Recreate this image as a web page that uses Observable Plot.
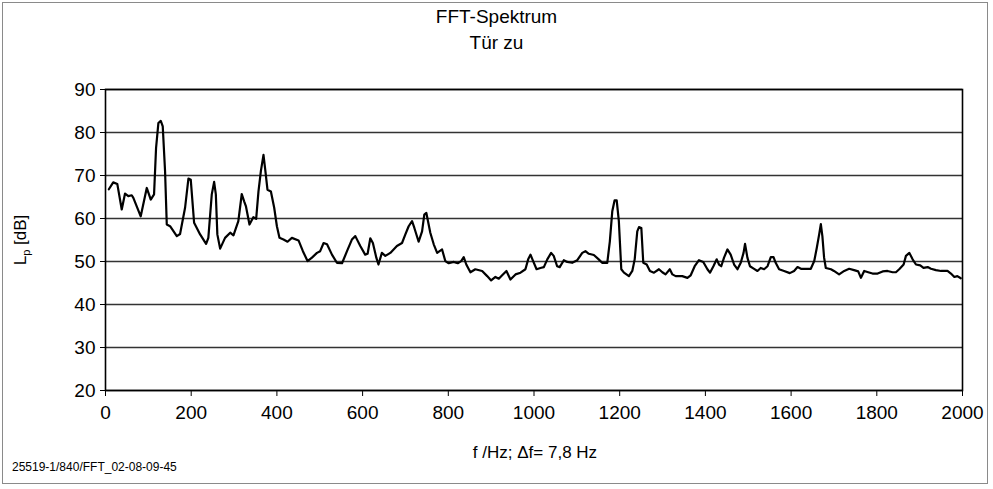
<!DOCTYPE html>
<html>
<head>
<meta charset="utf-8">
<script src="https://cdn.jsdelivr.net/npm/d3@7"></script>
<script src="https://cdn.jsdelivr.net/npm/@observablehq/plot@0.6"></script>
<style>
  html, body { margin: 0; padding: 0; background: #fff; }
  #wrap { position: relative; width: 993px; height: 489px; font-family: "Liberation Sans", Arial, sans-serif; color: #000; }
  .ov { position: absolute; white-space: nowrap; line-height: 1; }
  #border { position: absolute; left: 2px; top: 2px; width: 986px; height: 482px; border: 1px solid #8a8a8a; box-sizing: border-box; }
</style>
</head>
<body>
<div id="wrap">
  <div id="border"></div>
  <div id="chart"></div>
  <div class="ov" id="t1" style="left:0;width:993px;text-align:center;top:7px;font-size:19px;">FFT-Spektrum</div>
  <div class="ov" id="t2" style="left:0;width:993px;text-align:center;top:33px;font-size:19px;">Tür zu</div>
  <div class="ov" id="ylab" style="left:22px;top:240px;font-size:17px;transform:translate(-50%,-50%) rotate(-90deg);">L<sub style="font-size:11px;">p</sub> [dB]</div>
  <div class="ov" id="xlab" style="left:535px;top:444px;font-size:17px;transform:translateX(-50%);">f /Hz; Δf= 7,8 Hz</div>
  <div class="ov" id="foot" style="left:12px;top:461px;font-size:12px;">25519-1/840/FFT_02-08-09-45</div>
</div>
<script>
const freq = [7.8,18,27.6,37.9,45.6,53.3,61.2,65,82.2,96.3,105.6,113.3,118,123.4,129,133.6,139,143,150.7,166.4,174,185.7,193.5,199,206.8,220.8,234.8,240,248,253.5,257.5,261,267.5,279,291,298.6,310,318,323.6,327.6,336,345,351.6,357,362.6,368.7,372.7,378,386,393.7,400,406,415.4,424.8,435,450.5,460.7,471.5,481.8,493.5,501,509,517,528.5,540,552,563.6,575,583,594.6,606,611.7,618,624,632,637,645,653,664.7,680,692,699.8,707.5,715.4,720.8,730.8,738.8,744,748.8,758,766,774,785.5,793,801,812.6,822,830,836,842,851.6,863,879,890.7,900,910,917.8,925.7,935.7,945,956.8,968.5,980,986.4,991.8,998,1006,1015,1023,1031,1040,1046,1054,1060,1069.6,1077.6,1089,1101,1112.6,1120,1128,1139.7,1151,1159,1171,1177,1182.7,1188,1193,1198,1203.7,1210,1221.5,1229.4,1235,1241,1245,1250.5,1255,1263,1270.6,1280,1291.6,1299.5,1307,1317,1323,1330.6,1346,1358,1365.7,1375,1385,1395,1404.7,1410.7,1418.7,1426.4,1431.8,1437,1443.5,1451.4,1459,1467,1474.8,1482.5,1489,1492.5,1498,1504,1513.6,1521.5,1529,1537,1545,1552.6,1559,1564,1572,1583.6,1597,1607,1615,1623,1634,1646,1654,1660,1665.5,1669.4,1673,1677,1681,1693,1700,1712,1724,1735.5,1747,1756.6,1763,1770.6,1780,1790,1802,1813.6,1825,1837,1844.6,1852.3,1862.6,1868,1876,1883.6,1891.4,1901.4,1909,1918.7,1926.4,1938,1950,1957,1965,1973,1981,1988,1996];
const level = [66.8,68.4,68.0,62.1,65.8,65.2,65.4,64.8,60.5,67.1,64.4,65.6,76.4,82.2,82.7,81.4,71,58.6,58.2,55.9,56.4,62.5,69.3,69.0,59,56.3,54.1,55.5,65.6,68.5,65.6,56.3,53,55.5,56.7,56.1,59.4,65.7,64,62.9,58.6,60.3,59.9,66.3,71,74.8,71.4,66.7,66.3,62.5,58.2,55.5,55.1,54.6,55.5,54.9,52.4,50.1,50.9,52,52.4,54.3,54,51.6,49.7,49.6,52.4,55.1,55.9,53.6,51.6,51.8,55.4,54.3,50.9,49.3,52,51.3,52,53.6,54.3,56.3,58.2,59.4,57.8,54.6,57,60.9,61.3,56.7,54,52,52.8,50.1,49.6,49.9,49.6,50.1,51,49.3,47.5,48.2,47.8,46.6,45.6,46.4,46,46.8,47.8,45.8,47,47.4,48.2,50.5,51.6,50.1,48.2,48.5,48.7,50.5,52,51.3,48.9,48.7,50.3,49.9,49.7,50.3,52,52.4,51.8,51.5,50.5,49.7,49.7,54.7,61.7,64.2,64.2,59.4,48.2,47.4,46.6,47.8,50.5,57,58,57.8,49.7,49.3,47.8,47.4,48.2,47.5,47,48.2,47,46.6,46.6,46.2,46.8,48.9,50.3,49.9,48.2,47.4,48.9,50.5,49.3,48.9,50.9,52.8,51.6,49.3,48.2,49.7,52,54.1,50.9,48.9,48.3,47.8,48.5,48.2,48.9,51,51,49.7,48.2,47.8,47.3,47.8,48.7,48.3,48.3,48.3,50.1,53.2,56.3,58.7,55.9,50.9,48.5,48.2,47.8,47,47.8,48.3,48,47.7,46.2,47.8,47.5,47.2,47.2,47.7,47.8,47.5,47.5,48.2,49.3,51.3,52,50.5,49.3,49.1,48.5,48.7,48.3,48,47.8,47.8,47.8,47.2,46.4,46.6,46.1];
const xTicks = [0,200,400,600,800,1000,1200,1400,1600,1800,2000];
const yTicks = [20,30,40,50,60,70,80,90];

const data = freq.map((f, i) => ({f, L: level[i]}));

const chart = Plot.plot({
  width: 993,
  height: 489,
  marginLeft: 105,
  marginRight: 31,
  marginTop: 89,
  marginBottom: 99,
  style: {fontFamily: '"Liberation Sans", Arial, sans-serif', fontSize: "19px", background: "transparent", color: "#000"},
  x: {domain: [0, 2000], ticks: xTicks, tickFormat: d => String(d), tickSize: 6, tickPadding: 9, label: null},
  y: {domain: [20, 90], ticks: yTicks, tickFormat: d => String(d), tickSize: 5, tickPadding: 5, label: null},
  marks: [
    Plot.ruleY(yTicks, {stroke: "#333", strokeWidth: 1.4}),
    Plot.frame({stroke: "#000", strokeWidth: 1.6}),
    Plot.line(data, {x: "f", y: "L", stroke: "#000", strokeWidth: 2.2, strokeLinejoin: "round", curve: "linear"})
  ]
});
document.getElementById("chart").appendChild(chart);
</script>
</body>
</html>
